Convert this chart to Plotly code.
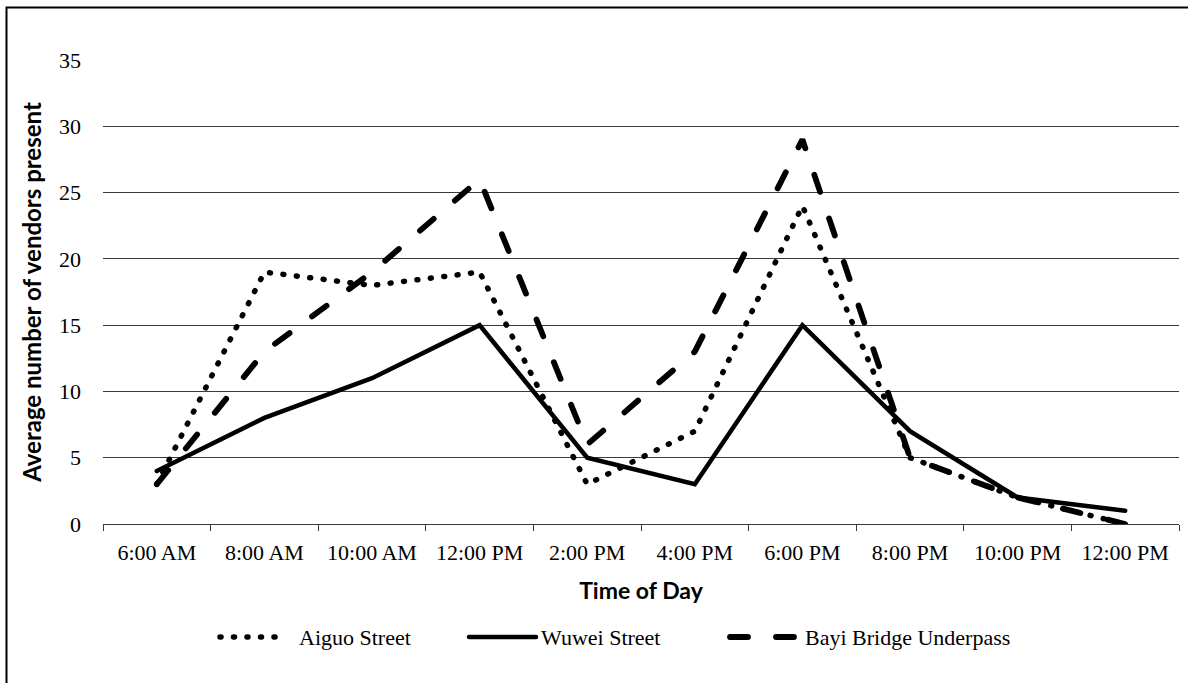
import plotly.graph_objects as go

# Time slots (two-hour intervals) and average vendor counts per location
time_labels = ["6:00 AM", "8:00 AM", "10:00 AM", "12:00 PM", "2:00 PM",
               "4:00 PM", "6:00 PM", "8:00 PM", "10:00 PM", "12:00 PM"]
aiguo_street = [3, 19, 18, 19, 3, 7, 24, 5, 2, 0]
wuwei_street = [4, 8, 11, 15, 5, 3, 15, 7, 2, 1]
bayi_bridge = [3, 13, 19, 26, 6, 13, 29, 5, 2, 0]
y_ticks = [0, 5, 10, 15, 20, 25, 30, 35]

x_pos = list(range(len(time_labels)))

SERIF = "Liberation Serif, Times New Roman, serif"
SANS_BOLD = "Lato, Open Sans, sans-serif"

styles = {
    "Aiguo Street": dict(width=5.5, dash="1px,12.5px"),
    "Wuwei Street": dict(width=4.5, dash="solid"),
    "Bayi Bridge Underpass": dict(width=5.8, dash="18px,28px"),
}

fig = go.Figure()
for name, values in [("Aiguo Street", aiguo_street),
                     ("Wuwei Street", wuwei_street),
                     ("Bayi Bridge Underpass", bayi_bridge)]:
    fig.add_trace(go.Scatter(
        x=x_pos, y=values, mode="lines", name=name,
        line=dict(color="black", **styles[name]),
        showlegend=False, hoverinfo="skip",
    ))

# Plot area geometry in pixels (for placing the hand-built legend)
W, H = 1188, 683
L, R, T, B = 103, 9, 60, 159
pw, ph = W - L - R, H - T - B


def px_x(px):
    return (px - L) / pw


def px_y(py):
    return (H - B - py) / ph


# Legend: line sample (start, end) followed by its label
legend_items = [
    ("Aiguo Street", 220, 275, 297),
    ("Wuwei Street", 469, 536, 539),
    ("Bayi Bridge Underpass", 730, 794, 803),
]
legend_y = 637
shapes = []
annotations = []
for name, sx0, sx1, tx in legend_items:
    st = styles[name]
    shapes.append(dict(
        type="line", xref="paper", yref="paper",
        x0=px_x(sx0), x1=px_x(sx1), y0=px_y(legend_y), y1=px_y(legend_y),
        line=dict(color="black", width=st["width"], dash=st["dash"]),
    ))
    annotations.append(dict(
        text=name, xref="paper", yref="paper", x=px_x(tx), y=px_y(legend_y),
        xanchor="left", yanchor="middle", showarrow=False,
        font=dict(family=SERIF, size=22, color="black"),
    ))

# Outer frame around the chart
shapes.append(dict(
    type="rect", xref="paper", yref="paper", layer="above",
    x0=px_x(6.5), x1=px_x(1192), y0=px_y(690), y1=px_y(7.5),
    line=dict(color="black", width=2), fillcolor="rgba(0,0,0,0)",
))

fig.update_layout(
    width=W, height=H,
    margin=dict(l=L, r=R, t=T, b=B, autoexpand=False),
    paper_bgcolor="white", plot_bgcolor="white",
    shapes=shapes, annotations=annotations,
    xaxis=dict(
        range=[-0.5, len(time_labels) - 0.5],
        tickmode="array", tickvals=x_pos, ticktext=time_labels,
        ticks="outside", ticklen=6, tickcolor="rgba(0,0,0,0)",
        ticklabelstandoff=2,
        tickfont=dict(family=SERIF, size=22, color="black"),
        showgrid=False, zeroline=False,
        showline=True, linecolor="#3a3a3a", linewidth=1.3,
        minor=dict(tickmode="array",
                   tickvals=[i - 0.5 for i in range(len(time_labels) + 1)],
                   ticks="outside", ticklen=6, tickcolor="#3a3a3a",
                   tickwidth=1.3, showgrid=False),
        title=dict(text="<b>Time of Day</b>", standoff=19,
                   font=dict(family=SANS_BOLD, size=23, color="black")),
        fixedrange=True,
    ),
    yaxis=dict(
        range=[0, 35], tickmode="array", tickvals=y_ticks,
        ticks="", ticklabelstandoff=21,
        tickfont=dict(family=SERIF, size=22, color="black"),
        showgrid=True, gridcolor="#3a3a3a", gridwidth=1.2,
        zeroline=False, showline=False,
        title=dict(text="<b>Average number of vendors present</b>", standoff=10,
                   font=dict(family=SANS_BOLD, size=24, color="black")),
        fixedrange=True,
    ),
)

# Round line caps give the dotted series its round dots
post = """
var gd = document.getElementById('{plot_id}');
function roundCaps() {
  gd.querySelectorAll('path.js-line, .shapelayer path').forEach(function (p) {
    p.style.strokeLinecap = 'round';
  });
}
roundCaps();
gd.on('plotly_afterplot', roundCaps);
"""

fig.write_html("out.html", post_script=post, config={"displayModeBar": False})
